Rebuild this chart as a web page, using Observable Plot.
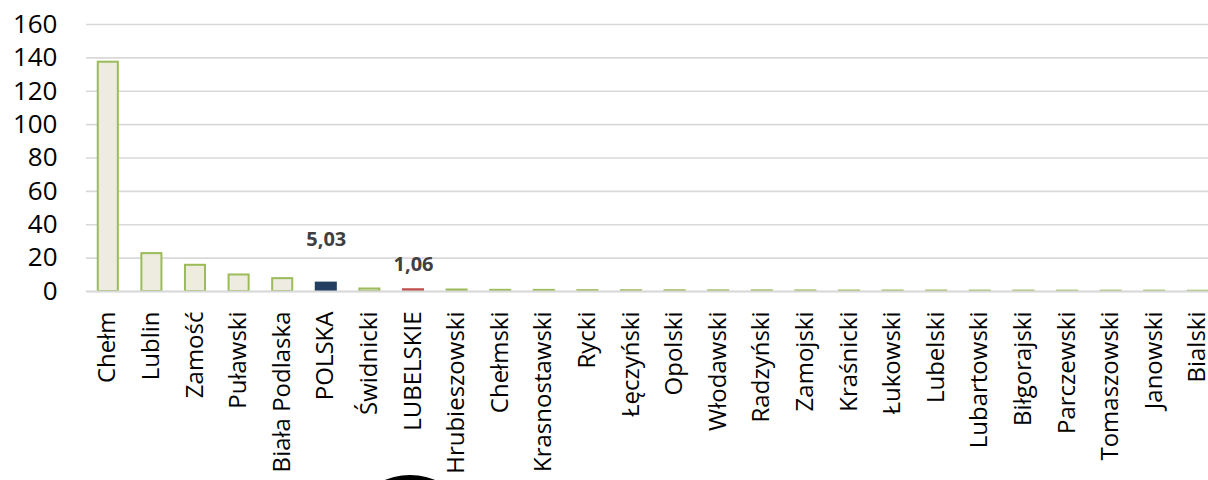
<!DOCTYPE html>
<html>
<head>
<meta charset="utf-8">
<script src="https://cdn.jsdelivr.net/npm/d3@7"></script>
<script src="https://cdn.jsdelivr.net/npm/@observablehq/plot@0.6"></script>
<style>
  html, body { margin: 0; padding: 0; background: #fff; overflow: hidden; }
  #wrap { position: relative; width: 1208px; height: 480px; overflow: hidden; }
  #blob { position: absolute; left: 368px; top: 475px; width: 84px; height: 50px; border-radius: 50%; background: #000; }
</style>
</head>
<body>
<div id="wrap"><div id="chart"></div><div id="blob"></div></div>
<script>
const categories = ["Chełm","Lublin","Zamość","Puławski","Biała Podlaska","POLSKA","Świdnicki","LUBELSKIE","Hrubieszowski","Chełmski","Krasnostawski","Rycki","Łęczyński","Opolski","Włodawski","Radzyński","Zamojski","Kraśnicki","Łukowski","Lubelski","Lubartowski","Biłgorajski","Parczewski","Tomaszowski","Janowski","Bialski"];
const values = [137.4, 22.7, 15.7, 9.9, 7.7, 5.03, 1.5, 1.06, 0.9, 0.7, 0.65, 0.5, 0.45, 0.45, 0.4, 0.4, 0.35, 0.3, 0.3, 0.3, 0.25, 0.25, 0.2, 0.2, 0.2, 0.15];
const yTicks = [0, 20, 40, 60, 80, 100, 120, 140, 160];
const labelCategories = ["POLSKA", "LUBELSKIE"];
const labelTexts = ["5,03", "1,06"];

const data = categories.map((c, i) => ({name: c, value: values[i]}));
const fillOf = n => n === "POLSKA" ? "#243f60" : n === "LUBELSKIE" ? "#953735" : "#eeece1";
const strokeOf = n => n === "POLSKA" ? "#243f60" : n === "LUBELSKIE" ? "#c0504d" : "#9bbb59";
const labels = labelCategories.map((c, i) => ({name: c, text: labelTexts[i], value: values[categories.indexOf(c)]}));

const chart = Plot.plot({
  width: 1208,
  height: 480,
  marginLeft: 86,
  marginRight: 0,
  marginTop: 24,
  marginBottom: 189,
  style: {fontFamily: "'Open Sans', sans-serif", background: "#fff", overflow: "hidden"},
  x: {domain: categories, range: [86, 1219.6], paddingInner: 0.54, paddingOuter: 0.27, round: false, label: null, axis: null},
  y: {domain: [0, 160], label: null, axis: null},
  marks: [
    Plot.gridY(yTicks, {stroke: "#d9d9d9", strokeOpacity: 1, strokeWidth: 1.6}),
    Plot.barY(data, {x: "name", y: "value", fill: d => fillOf(d.name), stroke: d => strokeOf(d.name), strokeWidth: 2}),
    Plot.ruleY([0], {stroke: "#d9d9d9", strokeWidth: 2}),
    Plot.text(yTicks, {y: d => d, text: d => String(d), frameAnchor: "left", dx: -29, textAnchor: "end", fontSize: 26, fill: "#000"}),
    Plot.text(categories, {x: d => d, text: d => d, frameAnchor: "bottom", dx: 7, dy: 20, rotate: -90, textAnchor: "end", fontSize: 24, fill: "#000"}),
    Plot.text(labels.filter(d => d.name === "POLSKA"), {x: "name", y: "value", text: "text", dy: -44, fontSize: 20, fontWeight: "bold", fill: "#404040"}),
    Plot.text(labels.filter(d => d.name === "LUBELSKIE"), {x: "name", y: "value", text: "text", dy: -25, fontSize: 20, fontWeight: "bold", fill: "#404040"})
  ]
});
document.getElementById("chart").appendChild(chart);
</script>
</body>
</html>
